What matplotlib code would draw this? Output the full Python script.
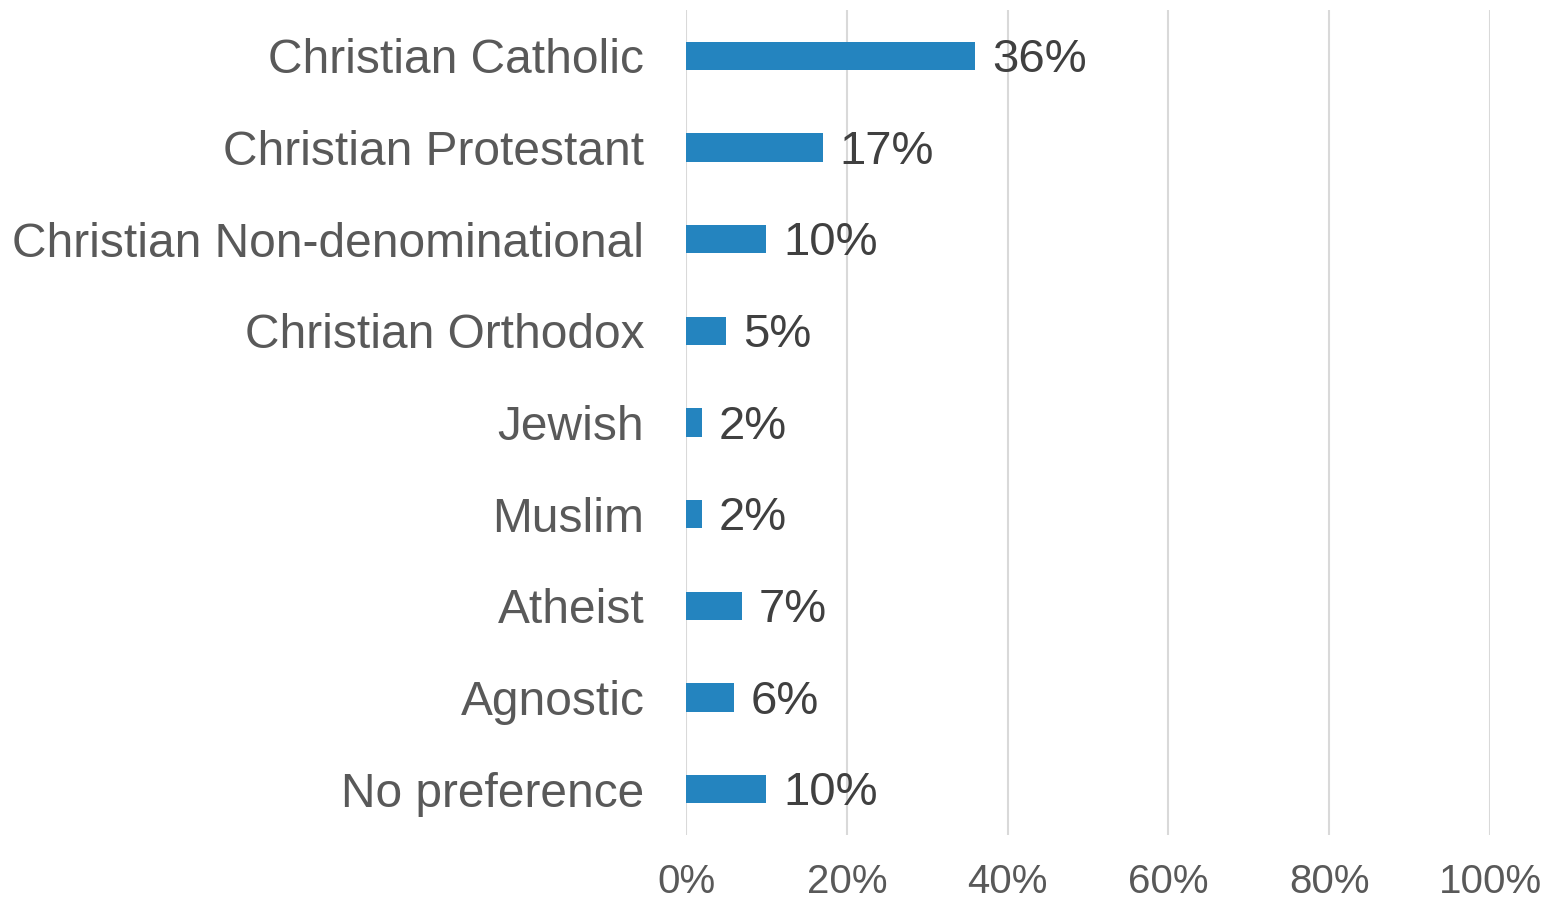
import numpy as np
import matplotlib.pyplot as plt

categories = ['Christian Catholic', 'Christian Protestant', 'Christian Non-denominational',
              'Christian Orthodox', 'Jewish', 'Muslim', 'Atheist', 'Agnostic', 'No preference']
values = [36, 17, 10, 5, 2, 2, 7, 6, 10]
xticks = [0, 20, 40, 60, 80, 100]

plt.rcParams['font.family'] = ['Liberation Sans', 'DejaVu Sans']

fig = plt.figure(figsize=(15.53, 9.01), dpi=100)
ax = fig.add_axes([686 / 1553, 1 - 835 / 901, (1490 - 686) / 1553, 825 / 901])

y = np.arange(len(categories))
ax.barh(y, values, height=0.31, color='#2484BF', zorder=3)
for yi, v in zip(y, values):
    ax.annotate(f'{v}%', (v, yi), xytext=(12, -3), textcoords='offset points',
                ha='left', va='center', fontsize=34, color='#404040')

ax.set_ylim(len(categories) - 0.5, -0.5)
ax.set_xlim(0, 100)
ax.set_yticks(y)
ax.set_yticklabels(categories, fontsize=34.5, color='#595959')
ax.tick_params(axis='y', length=0, pad=30)
ax.set_xticks(xticks)
ax.set_xticklabels([f'{t}%' for t in xticks], fontsize=29, color='#595959')
ax.tick_params(axis='x', length=0, pad=20)
ax.grid(axis='x', color='#D9D9D9', linewidth=1.5, zorder=0)
for s in ax.spines.values():
    s.set_visible(False)

fig.savefig('out.png', dpi=100)
